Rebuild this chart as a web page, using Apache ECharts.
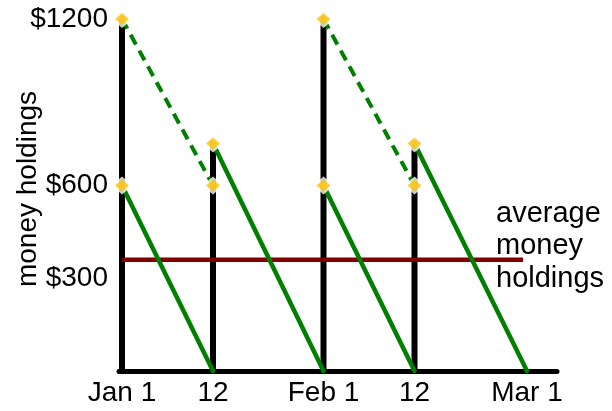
<!DOCTYPE html>
<html>
<head>
<meta charset="utf-8">
<script src="https://cdn.jsdelivr.net/npm/echarts@6/dist/echarts.min.js"></script>
<style>
  html, body { margin: 0; padding: 0; background: #fff; }
  #chart { width: 612px; height: 411px; }
</style>
</head>
<body>
<div id="chart"></div>
<script>
// Dates along the time axis (schematic spacing) and their labels
const dateLabels = ['Jan 1', '12', 'Feb 1', '12', 'Mar 1'];
const datePos = [0, 0.91, 2.015, 2.925, 4.05];

// Cash events: paydays and mid-month withdrawals (indexes into the dates)
const paydays = [0, 2];
const midMonths = [1, 3];

// Dollar amounts
const income = 1200;        // paid in on the 1st
const withdrawal = 600;     // cash taken out each time
const midMonthTop = 736;    // top of the mid-month bar
const averageHolding = 360; // average money holdings line
const lowerTicks = [300, 600];
const upperTicks = [1200];

// Where the cash starts each spending period (green lines)
const spendStart = [600, 736, 600, 736];

const FONT = 'Liberation Sans, Arial, sans-serif';
const LEFT = 119, RIGHT = 55;
const X_MIN = -0.03, X_MAX = 4.35;

function seg(points, grid, lineStyle, z) {
  return {
    type: 'line', xAxisIndex: grid, yAxisIndex: grid,
    data: points, symbol: 'none', showSymbol: false,
    lineStyle: lineStyle, z: z, clip: false, silent: true, animation: false
  };
}

const blackStyle = { color: '#000', width: 6, cap: 'round' };
const greenStyle = { color: '#008000', width: 4.5, cap: 'round' };
const dashStyle = { color: '#008000', width: 4, type: [11, 7] };

const series = [];

// black bars: 0 -> withdrawal on every date
datePos.slice(0, 4).forEach(function (x) {
  series.push(seg([[x, 0], [x, withdrawal]], 0, blackStyle, 2));
});
// black bars above the withdrawal on mid-month dates
midMonths.forEach(function (i) {
  series.push(seg([[datePos[i], withdrawal], [datePos[i], midMonthTop]], 0, blackStyle, 2));
});
// black bars up to the full income on paydays (upper part)
paydays.forEach(function (i) {
  series.push(seg([[datePos[i], withdrawal], [datePos[i], income]], 1, blackStyle, 2));
});

// average money holdings
series.push(seg([[0, averageHolding], [4.01, averageHolding]], 0,
  { color: '#800000', width: 4.5 }, 3));

// cash spent down to zero by the next date
spendStart.forEach(function (v, i) {
  series.push(seg([[datePos[i], v], [datePos[i + 1], 0]], 0, greenStyle, 4));
});

// remaining balance between payday and mid-month withdrawal
paydays.forEach(function (i) {
  series.push(seg([[datePos[i], income], [datePos[i + 1], withdrawal]], 1, dashStyle, 4));
});

const lowerPoints = datePos.slice(0, 4).map(function (x) { return [x, withdrawal]; })
  .concat(midMonths.map(function (i) { return [datePos[i], midMonthTop]; }));
const upperPoints = paydays.map(function (i) { return [datePos[i], income]; });

// each marker: a white halo diamond with the yellow diamond on top
function markers(points, grid) {
  return [
    {
      type: 'scatter', xAxisIndex: grid, yAxisIndex: grid, data: points,
      symbol: 'diamond', symbolSize: [21, 18], itemStyle: { color: '#fff' }, z: 5,
      silent: true, animation: false, clip: false
    },
    {
      type: 'scatter', xAxisIndex: grid, yAxisIndex: grid, data: points,
      symbol: 'diamond', symbolSize: [14, 12], itemStyle: { color: '#FFC000' }, z: 6,
      silent: true, animation: false, clip: false
    }
  ];
}
series.push.apply(series, markers(lowerPoints, 0));
series.push.apply(series, markers(upperPoints, 1));

const chart = echarts.init(document.getElementById('chart'), null, { renderer: 'canvas' });

chart.setOption({
  backgroundColor: '#fff',
  animation: false,
  grid: [
    // 0 .. 800, with $0 at the axis line
    { left: LEFT, right: RIGHT, top: 123.67, bottom: 40 },
    // 600 .. 1200 (compressed upper part)
    { left: LEFT, right: RIGHT, top: 19, bottom: 225.5 }
  ],
  xAxis: [
    {
      type: 'value', gridIndex: 0, min: X_MIN, max: X_MAX,
      axisLine: { show: true, lineStyle: { color: '#000', width: 5 } },
      axisTick: { show: false },
      splitLine: { show: false },
      axisLabel: {
        customValues: datePos,
        formatter: function (v) {
          const i = datePos.indexOf(v);
          return i >= 0 ? dateLabels[i] : '';
        },
        color: '#000', fontFamily: FONT, fontSize: 28, margin: 8
      }
    },
    {
      type: 'value', gridIndex: 1, min: X_MIN, max: X_MAX, show: false
    }
  ],
  yAxis: [
    {
      type: 'value', gridIndex: 0, min: 0, max: 800,
      axisLine: { show: false }, axisTick: { show: false }, splitLine: { show: false },
      axisLabel: {
        customValues: lowerTicks,
        formatter: function (v) { return '$' + v; },
        color: '#000', fontFamily: FONT, fontSize: 28, margin: 11
      }
    },
    {
      type: 'value', gridIndex: 1, min: 600, max: 1200,
      axisLine: { show: false }, axisTick: { show: false }, splitLine: { show: false },
      axisLabel: {
        customValues: upperTicks,
        formatter: function (v) { return '$' + v; },
        color: '#000', fontFamily: FONT, fontSize: 28, margin: 11
      }
    }
  ],
  graphic: [
    {
      type: 'text', x: 28, y: 189, rotation: Math.PI / 2,
      style: {
        text: 'money holdings', fill: '#000', font: '28px ' + FONT,
        align: 'center', verticalAlign: 'middle'
      }
    },
    {
      type: 'text', x: 496, y: 246,
      style: {
        text: 'average\nmoney\nholdings', fill: '#000', font: '29px ' + FONT,
        align: 'left', verticalAlign: 'middle', lineHeight: 32.5
      }
    }
  ],
  series: series
});
</script>
</body>
</html>
